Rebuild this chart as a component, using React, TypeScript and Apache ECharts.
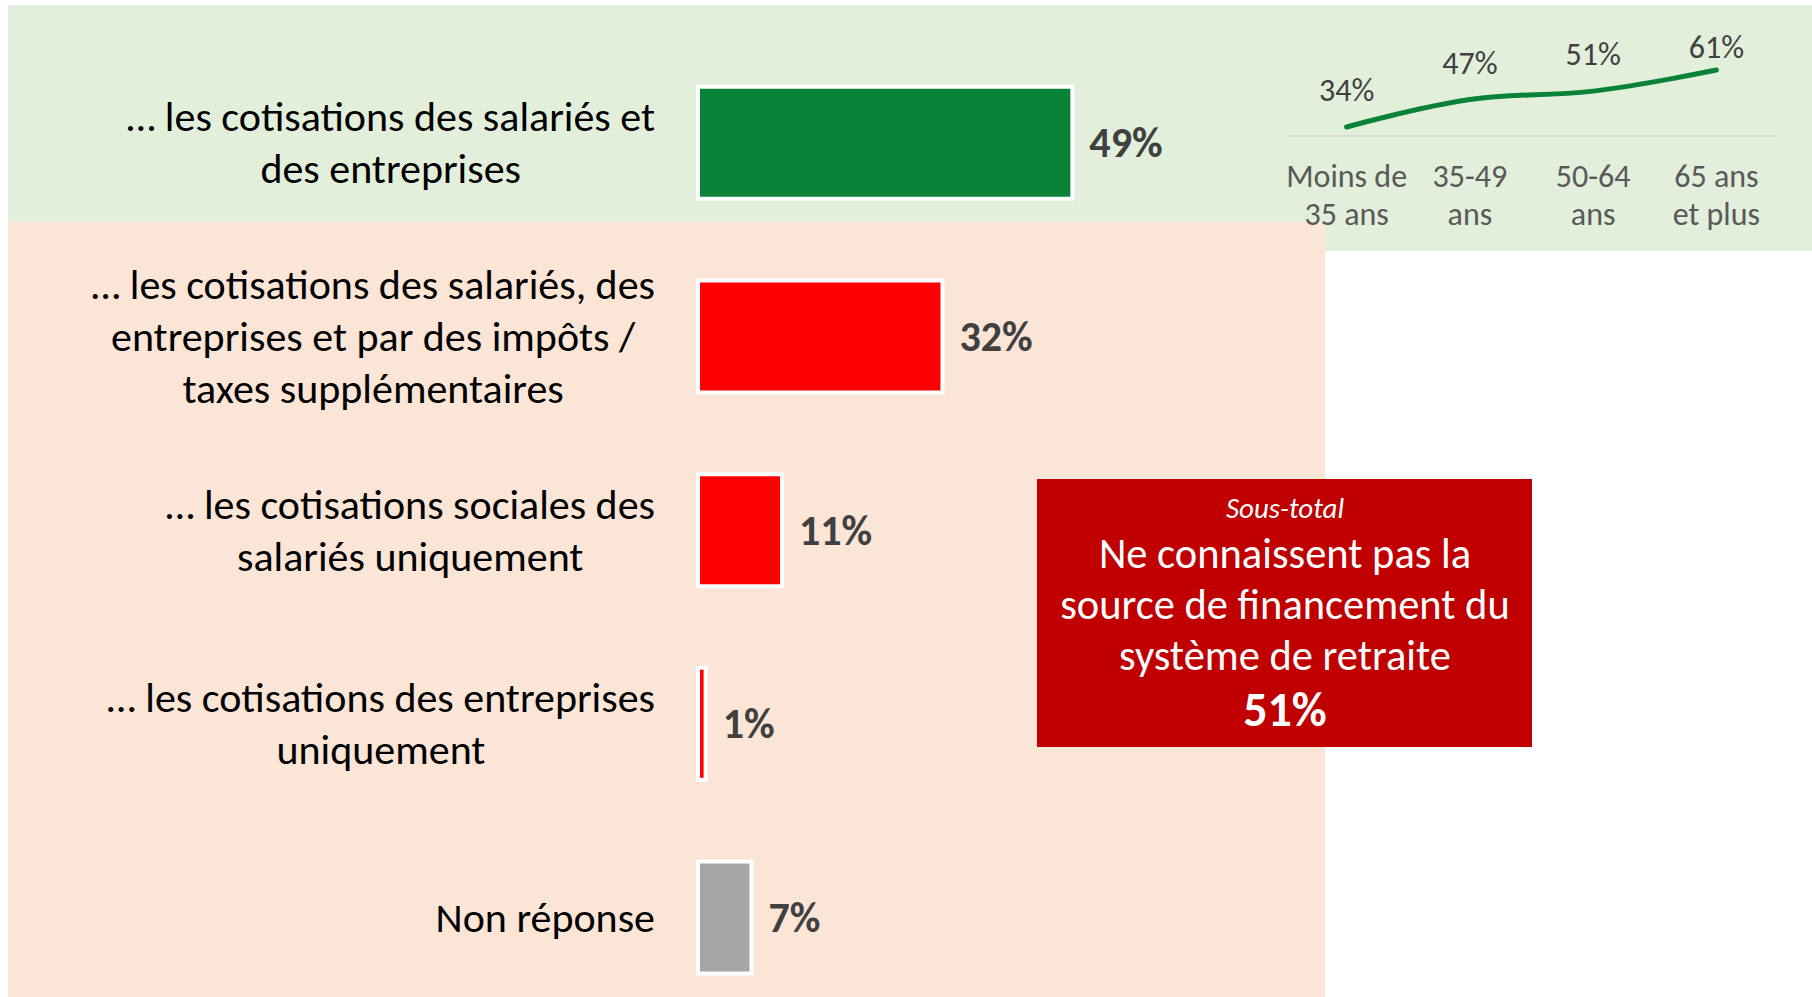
import React, { useEffect, useRef } from "react";
import * as echarts from "echarts";

const categories = [
  "… les cotisations des salariés et\ndes entreprises",
  "… les cotisations des salariés, des\nentreprises et par des impôts /\ntaxes supplémentaires",
  "… les cotisations sociales des\nsalariés uniquement",
  "… les cotisations des entreprises\nuniquement",
  "Non réponse",
];
const shares = [49, 32, 11, 1, 7];
const barColors = ["#0A8237", "#FF0000", "#FF0000", "#FF0000", "#A6A6A6"];

const ageGroups = ["Moins de\n35 ans", "35-49\nans", "50-64\nans", "65 ans\net plus"];
const ageShares = [34, 47, 51, 61];

const subtotalTitle = "Sous-total";
const subtotalText = "Ne connaissent pas la\nsource de financement du\nsystème de retraite";
const subtotalValue = 51;

const FONT = "Carlito, Lato, 'Noto Sans', sans-serif";
const BAR_H = 112;

export default function App() {
  const ref = useRef<HTMLDivElement>(null);
  useEffect(() => {
    document.body.style.margin = "0";
    const chart = echarts.init(ref.current!, undefined, { renderer: "svg" });
    chart.setOption({
      animation: false,
      textStyle: { fontFamily: FONT },
      graphic: [
        { type: "rect", z: -10, shape: { x: 8, y: 5, width: 1804, height: 246 }, style: { fill: "#E2EFDA" } },
        { type: "rect", z: -9, shape: { x: 8, y: 222, width: 1317, height: 775 }, style: { fill: "#FBE5D6" } },
        { type: "rect", z: 10, shape: { x: 1037, y: 479, width: 495, height: 268 }, style: { fill: "#C00000" } },
        {
          type: "text", z: 11, x: 1285, y: 508,
          style: { text: subtotalTitle, fill: "#fff", font: `italic 29px ${FONT}`, textAlign: "center", textVerticalAlign: "middle" },
        },
        {
          type: "text", z: 11, x: 1285, y: 604,
          style: { text: subtotalText, fill: "#fff", font: `42.5px ${FONT}`, lineHeight: 51, textAlign: "center", textVerticalAlign: "middle" },
        },
        {
          type: "text", z: 11, x: 1285, y: 709,
          style: { text: `${subtotalValue}%`, fill: "#fff", font: `bold 48px ${FONT}`, textAlign: "center", textVerticalAlign: "middle" },
        },
      ],
      grid: [
        { left: 698, width: 764, top: 45.9, height: 968.5, outerBoundsMode: "none", containLabel: false },
        { left: 1285, width: 493, top: 61.6, height: 73.8, outerBoundsMode: "none", containLabel: false },
      ],
      xAxis: [
        { type: "value", gridIndex: 0, min: 0, max: 100, show: false },
        {
          type: "category", gridIndex: 1, data: ageGroups, boundaryGap: true,
          axisLine: { show: true, lineStyle: { color: "#D9D9D9", width: 2 } },
          axisTick: { show: false },
          axisLabel: { interval: 0, color: "#595959", fontSize: 32, lineHeight: 38, margin: 22, fontFamily: FONT },
        },
      ],
      yAxis: [
        {
          type: "category", gridIndex: 0, data: categories, inverse: true,
          axisLine: { show: false }, axisTick: { show: false }, splitLine: { show: false },
          axisLabel: {
            margin: 43,
            formatter: (v: string) => v.split("\n").map((l) => `{c|${l}}`).join("\n"),
            rich: { c: { align: "center", fontSize: 42, lineHeight: 52, color: "#000", fontFamily: FONT } },
          },
        },
        { type: "value", gridIndex: 1, min: 30, max: 65, show: false },
      ],
      series: [
        {
          type: "custom", xAxisIndex: 0, yAxisIndex: 0,
          data: shares.map((v, i) => [v, i]),
          encode: { x: 0, y: 1 },
          renderItem: (params: any, api: any) => {
            const idx = api.value(1);
            const v = api.value(0);
            const start = api.coord([0, idx]);
            const end = api.coord([v, idx]);
            return {
              type: "rect",
              shape: { x: start[0], y: start[1] - BAR_H / 2, width: end[0] - start[0], height: BAR_H },
              style: { fill: barColors[idx], stroke: "#FFFFFF", lineWidth: 4 },
              textContent: {
                style: {
                  text: `${v}%`, fill: "#404040", fontSize: 42, fontWeight: "bold", fontFamily: FONT,
                },
              },
              textConfig: { position: "right", distance: 15 },
            };
          },
        },
        {
          type: "line", xAxisIndex: 1, yAxisIndex: 1, smooth: 0.4,
          data: ageShares.map((v, i) => (i === ageShares.length - 1 ? { value: v, label: { distance: 6 } } : v)),
          showSymbol: true, symbol: "circle", symbolSize: 1,
          itemStyle: { color: "#0A8237" },
          lineStyle: { color: "#0A8237", width: 5, cap: "round" },
          label: {
            show: true, position: "top", distance: 20, formatter: "{c}%",
            fontSize: 32, lineHeight: 32, color: "#404040", fontFamily: FONT,
          },
        },
      ],
    });
    return () => chart.dispose();
  }, []);
  return <div ref={ref} style={{ position: "absolute", left: 0, top: 0, width: 1812, height: 997 }} />;
}
